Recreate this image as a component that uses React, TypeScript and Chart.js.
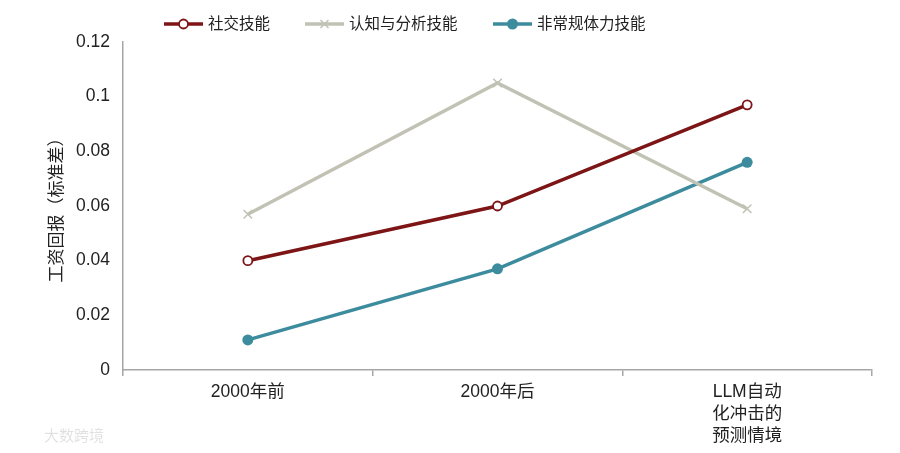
import { useRef, useEffect } from "react";
import { Chart, registerables, type Plugin } from "chart.js";

Chart.register(...registerables);

const categories: (string | string[])[] = ["2000年前", "2000年后", ["LLM自动", "化冲击的", "预测情境"]];
const socialSkills = [0.040, 0.060, 0.097];
const cognitiveSkills = [0.057, 0.105, 0.059];
const manualSkills = [0.011, 0.037, 0.076];
const yTicks = [0, 0.02, 0.04, 0.06, 0.08, 0.1, 0.12];

const RED = "#7d1517";
const GREY = "#c1c2b4";
const TEAL = "#3d8c9e";
const FONT = "'Liberation Sans', Arial, 'Noto Sans CJK SC', sans-serif";

const legendItems = [
  { label: "社交技能", color: RED, marker: "open", x: 164 },
  { label: "认知与分析技能", color: GREY, marker: "cross", x: 305 },
  { label: "非常规体力技能", color: TEAL, marker: "dot", x: 493 },
];

// legend drawn by hand: line with a marker in the middle, then the label
const legendPlugin: Plugin<"line"> = {
  id: "customLegend",
  afterDraw(chart) {
    const ctx = chart.ctx;
    const y = 24;
    ctx.save();
    for (const item of legendItems) {
      const x0 = item.x;
      const x1 = x0 + 39;
      const mx = (x0 + x1) / 2;
      ctx.strokeStyle = item.color;
      ctx.lineWidth = 3.5;
      ctx.beginPath();
      ctx.moveTo(x0, y);
      ctx.lineTo(x1, y);
      ctx.stroke();
      if (item.marker === "open") {
        ctx.fillStyle = "#fff";
        ctx.lineWidth = 1.8;
        ctx.beginPath();
        ctx.arc(mx, y, 4.5, 0, Math.PI * 2);
        ctx.fill();
        ctx.stroke();
      } else if (item.marker === "dot") {
        ctx.fillStyle = item.color;
        ctx.beginPath();
        ctx.arc(mx, y, 5.5, 0, Math.PI * 2);
        ctx.fill();
      } else {
        ctx.lineWidth = 1.5;
        ctx.beginPath();
        ctx.moveTo(mx - 4, y - 4);
        ctx.lineTo(mx + 4, y + 4);
        ctx.moveTo(mx + 4, y - 4);
        ctx.lineTo(mx - 4, y + 4);
        ctx.stroke();
      }
      ctx.fillStyle = "#222";
      ctx.font = `15.5px ${FONT}`;
      ctx.textBaseline = "middle";
      ctx.textAlign = "left";
      ctx.fillText(item.label, x1 + 5, y + 1);
    }
    // faint watermark, bottom left
    ctx.fillStyle = "rgba(0,0,0,0.12)";
    ctx.font = `15px ${FONT}`;
    ctx.fillText("大数跨境", 44, 437);
    ctx.restore();
  },
};

export default function App() {
  const canvasRef = useRef<HTMLCanvasElement>(null);
  const chartRef = useRef<Chart | null>(null);

  useEffect(() => {
    if (!canvasRef.current) return;
    chartRef.current?.destroy();

    chartRef.current = new Chart(canvasRef.current, {
      type: "line",
      data: {
        labels: categories,
        datasets: [
          {
            label: "社交技能",
            data: socialSkills,
            borderColor: RED,
            backgroundColor: "#fff",
            borderWidth: 3.5,
            pointRadius: 4.5,
            pointBorderWidth: 1.8,
            pointBorderColor: RED,
            pointBackgroundColor: "#fff",
            tension: 0,
          },
          {
            label: "认知与分析技能",
            data: cognitiveSkills,
            borderColor: GREY,
            backgroundColor: GREY,
            borderWidth: 3.5,
            pointStyle: "crossRot",
            pointRadius: 6,
            pointBorderWidth: 1.5,
            pointBorderColor: GREY,
            tension: 0,
          },
          {
            label: "非常规体力技能",
            data: manualSkills,
            borderColor: TEAL,
            backgroundColor: TEAL,
            borderWidth: 3.5,
            pointRadius: 5.5,
            pointBorderWidth: 0,
            pointBackgroundColor: TEAL,
            tension: 0,
          },
        ],
      },
      options: {
        responsive: true,
        maintainAspectRatio: false,
        animation: false,
        layout: { padding: { top: 42, right: 28, left: 0, bottom: 0 } },
        plugins: { legend: { display: false }, tooltip: { enabled: false } },
        scales: {
          x: {
            offset: true,
            afterFit: (s) => {
              s.height = 83;
            },
            grid: {
              display: true,
              drawOnChartArea: false,
              drawTicks: true,
              tickLength: 6,
              offset: true,
              color: "#a6a6a6",
              lineWidth: 1.5,
            },
            border: { display: true, color: "#a6a6a6", width: 1.5 },
            ticks: {
              color: "#222",
              padding: 5,
              maxRotation: 0,
              autoSkip: false,
              font: { family: FONT, size: 17.5, lineHeight: 1.26 },
            },
          },
          y: {
            min: 0,
            max: 0.12,
            afterFit: (s) => {
              s.width = 123;
            },
            afterBuildTicks: (s) => {
              s.ticks = yTicks.map((v) => ({ value: v }));
            },
            grid: { display: true, drawOnChartArea: false, drawTicks: false },
            border: { display: true, color: "#a6a6a6", width: 1.5 },
            ticks: {
              color: "#222",
              padding: 13,
              font: { family: FONT, size: 17.5 },
              callback: (v) => String(+Number(v).toFixed(2)),
            },
            title: {
              display: true,
              text: "工资回报（标准差）",
              color: "#222",
              padding: { top: 47, bottom: 0 },
              font: { family: FONT, size: 17 },
            },
          },
        },
      },
      plugins: [legendPlugin],
    });

    return () => {
      chartRef.current?.destroy();
    };
  }, []);

  return (
    <div style={{ position: "absolute", left: 0, top: 0, width: 900, height: 453, background: "#fff" }}>
      <canvas ref={canvasRef} aria-label="工资回报（标准差）" />
    </div>
  );
}
